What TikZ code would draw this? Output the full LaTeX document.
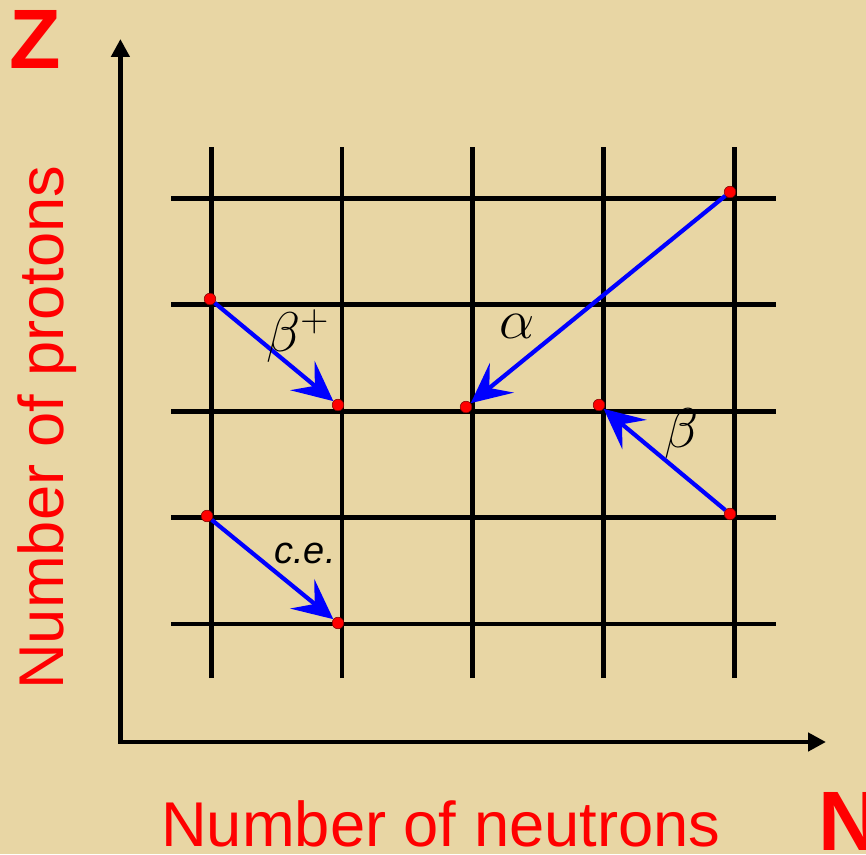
\documentclass[tikz,border=0pt]{standalone}
\usepackage{fontspec}
\setsansfont{Liberation Sans}
\usetikzlibrary{arrows.meta}
\definecolor{parch}{HTML}{E8D6A4}
\definecolor{nzred}{HTML}{FF0000}
\definecolor{nzblue}{HTML}{0000FF}

\begin{document}
\begin{tikzpicture}[
  x=1cm, y=1cm,
  font=\sffamily,
  line join=miter,
  gridline/.style={line width=3.3pt},
  axis/.style={line width=3.3pt, {Triangle[length=0.45cm, width=0.45cm]}-{Triangle[length=0.45cm, width=0.45cm]}},
  nuc/.style={circle, fill=nzred, draw=nzred!50!black, line width=0.4pt, inner sep=0pt, minimum size=0.29cm},
  decay/.style={draw=nzblue, line width=3pt, -{Stealth[length=1.0cm, width=0.95cm, inset=0.4cm]}},
  lbl/.style={font=\Huge, scale=1.6},
  axtitle/.style={text=nzred, font=\fontsize{45}{45}\selectfont\sffamily, inner sep=0pt},
  big/.style={text=nzred, font=\fontsize{60}{60}\selectfont\sffamily\bfseries, inner sep=0pt},
]
\useasboundingbox (0,0) rectangle (21.65,21.35);
\clip (0,0) rectangle (21.65,21.35);
\fill[parch] (0,0) rectangle (21.65,21.35);

% axes
\coordinate (O) at (3.01,2.8);
\coordinate (ztip) at (3.01,20.375);
\coordinate (ntip) at (20.65,2.8);
\draw[axis] (ztip) -- (O) -- (ntip);

% grid of nuclides
\foreach \gx in {5.28,8.55,11.82,15.09,18.36} {
  \draw[gridline] (\gx,4.4) -- (\gx,17.675);
}
\foreach \gy in {5.75,8.41,11.07,13.73,16.39} {
  \draw[gridline] (4.275,\gy) -- (19.4,\gy);
}

% nuclides
\node[nuc] (bpfrom) at (5.25,13.875) {};
\node[nuc] (bpto) at (8.45,11.225) {};
\node[nuc] (alto) at (11.65,11.175) {};
\node[nuc] (bmto) at (14.975,11.225) {};
\node[nuc] (alfrom) at (18.25,16.55) {};
\node[nuc] (bmfrom) at (18.25,8.5) {};
\node[nuc] (cefrom) at (5.175,8.45) {};
\node[nuc] (ceto) at (8.45,5.775) {};

% decays
\draw[decay] (bpfrom) -- (bpto);
\draw[decay] (alfrom) -- (alto);
\draw[decay] (bmfrom) -- (bmto);
\draw[decay] (cefrom) -- (ceto);

\node[lbl, anchor=west, inner sep=0pt] (bplbl) at (6.65,12.95) {$\beta^{\scriptscriptstyle +}$};
\node[lbl] (allbl) at (12.925,13.2) {$\alpha$};
\node[lbl] (bmlbl) at (17.05,10.5) {$\beta$};
\node[font=\fontsize{27}{27}\selectfont\sffamily\itshape] (celbl) at (7.625,7.525) {c.e.};

% axis titles
\node[big] (zlbl) at (0.89,20.375) {Z};
\node[big, anchor=base west] (nlbl) at (20.45,0.1) {N};
\node[axtitle, anchor=base west] (nlabel) at (4.025,0.2) {Number of neutrons};
\node[axtitle, anchor=base west, rotate=90] (zlabel) at (1.575,4.1) {Number of protons};
\end{tikzpicture}
\end{document}
